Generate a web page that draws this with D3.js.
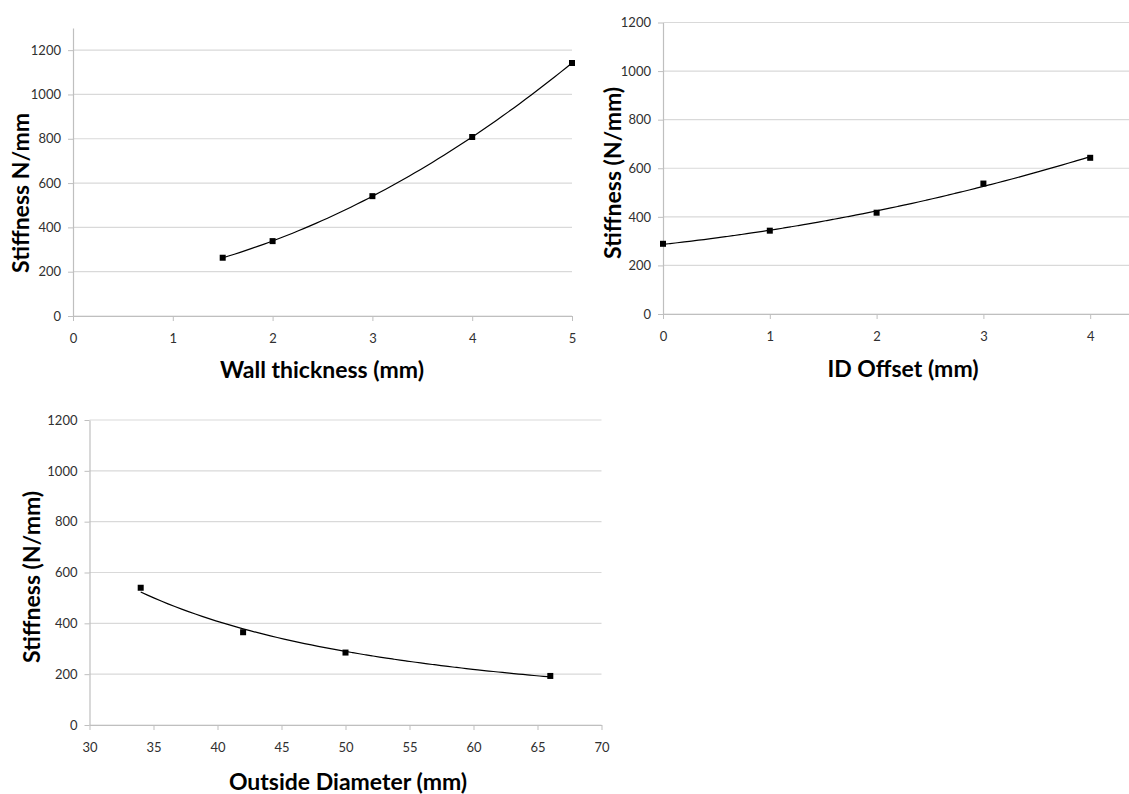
<!DOCTYPE html>
<html>
<head>
<meta charset="utf-8">
<script src="https://cdn.jsdelivr.net/npm/d3@7"></script>
<style>
  body { margin: 0; background: #fff; }
  svg { display: block; }
  .tick text { font-family: Lato, "Open Sans", sans-serif; font-size: 13px; fill: #303030; }
  .title { font-family: Lato, "Open Sans", sans-serif; font-weight: bold; font-size: 23px; fill: #000; }
</style>
</head>
<body>
<svg id="chart" width="1129" height="794"></svg>
<script>
// chart 1 - wall thickness
const wallThickness = [1.5, 2, 3, 4, 5];
const wallStiffness = [263, 338, 541, 808, 1142];
// chart 2 - ID offset
const idOffset = [0, 1, 2, 3, 4];
const idStiffness = [289, 343, 417, 537, 643];
// chart 3 - outside diameter
const outsideDiameter = [34, 42, 50, 66];
const odStiffness = [540, 365, 285, 193];

const yTicks = [0, 200, 400, 600, 800, 1000, 1200];

const svg = d3.select('#chart');

// least squares trendlines, like the excel ones
function polyFit(xs, ys) {
  // quadratic, solve normal equations
  let n = xs.length, s = [0,0,0,0,0], t = [0,0,0];
  for (let i = 0; i < n; i++) {
    let p = 1;
    for (let k = 0; k < 5; k++) { s[k] += p; if (k < 3) t[k] += p * ys[i]; p *= xs[i]; }
  }
  let m = [[s[0], s[1], s[2], t[0]], [s[1], s[2], s[3], t[1]], [s[2], s[3], s[4], t[2]]];
  for (let i = 0; i < 3; i++) {
    for (let j = i + 1; j < 3; j++) {
      let f = m[j][i] / m[i][i];
      for (let k = i; k < 4; k++) m[j][k] -= f * m[i][k];
    }
  }
  let c = [0, 0, 0];
  for (let i = 2; i >= 0; i--) {
    let v = m[i][3];
    for (let k = i + 1; k < 3; k++) v -= m[i][k] * c[k];
    c[i] = v / m[i][i];
  }
  return x => c[0] + c[1] * x + c[2] * x * x;
}

function powerFit(xs, ys) {
  let lx = xs.map(Math.log), ly = ys.map(Math.log);
  let mx = d3.mean(lx), my = d3.mean(ly);
  let b = d3.sum(lx, (v, i) => (v - mx) * (ly[i] - my)) / d3.sum(lx, v => (v - mx) * (v - mx));
  let a = Math.exp(my - b * mx);
  return x => a * Math.pow(x, b);
}

function drawChart(cfg) {
  const x = d3.scaleLinear().domain(cfg.xDomain).range(cfg.xRange);
  const y = d3.scaleLinear().domain(cfg.yDomain).range(cfg.yRange);
  const g = svg.append('g');
  const right = Math.min(x.range()[1], 1129);

  // gridlines
  g.selectAll('.grid')
    .data(yTicks)
    .enter()
    .append('line')
    .attr('x1', x.range()[0])
    .attr('x2', right)
    .attr('y1', d => y(d))
    .attr('y2', d => y(d))
    .attr('stroke', '#d9d9d9')
    .attr('stroke-width', 1.2);

  const yAxis = g.append('g')
    .attr('transform', 'translate(' + x.range()[0] + ',0)')
    .call(d3.axisLeft(y).tickValues(yTicks).tickFormat(d3.format('d')).tickSize(5).tickPadding(7).tickSizeOuter(0));
  yAxis.select('.domain').attr('stroke', '#bfbfbf').attr('stroke-width', 1.2);
  yAxis.selectAll('.tick line').attr('stroke', '#bfbfbf');

  const xAxis = g.append('g')
    .attr('transform', 'translate(0,' + y.range()[0] + ')')
    .call(d3.axisBottom(x).tickValues(cfg.xTicks).tickFormat(d3.format('d')).tickSize(5).tickPadding(13).tickSizeOuter(0));
  xAxis.select('.domain').attr('stroke', '#bfbfbf').attr('stroke-width', 1.2);
  xAxis.selectAll('.tick line').attr('stroke', '#bfbfbf');

  // trendline
  const lo = d3.min(cfg.xs), hi = d3.max(cfg.xs);
  const samples = d3.range(0, 61).map(i => lo + (hi - lo) * i / 60);
  g.append('path')
    .datum(samples)
    .attr('fill', 'none')
    .attr('stroke', '#000')
    .attr('stroke-width', 1.2)
    .attr('d', d3.line().x(d => x(d)).y(d => y(cfg.fit(d))).curve(d3.curveMonotoneX));

  g.selectAll('.pt')
    .data(cfg.xs)
    .enter()
    .append('rect')
    .attr('x', d => x(d) - 3)
    .attr('y', (d, i) => y(cfg.ys[i]) - 3)
    .attr('width', 6)
    .attr('height', 6)
    .attr('fill', '#000');

  g.append('text')
    .attr('class', 'title')
    .attr('text-anchor', 'middle')
    .attr('x', cfg.xTitlePos[0])
    .attr('y', cfg.xTitlePos[1])
    .text(cfg.xTitle);

  g.append('text')
    .attr('class', 'title')
    .attr('text-anchor', 'middle')
    .attr('transform', 'translate(' + cfg.yTitlePos[0] + ',' + cfg.yTitlePos[1] + ') rotate(-90)')
    .text(cfg.yTitle);
}

drawChart({
  xs: wallThickness, ys: wallStiffness, fit: polyFit(wallThickness, wallStiffness),
  xDomain: [0, 5], xRange: [73, 572], xTicks: [0, 1, 2, 3, 4, 5],
  yDomain: [0, 1300], yRange: [316, 28],
  xTitle: 'Wall thickness (mm)', xTitlePos: [322, 378],
  yTitle: 'Stiffness N/mm', yTitlePos: [29, 193]
});

drawChart({
  xs: idOffset, ys: idStiffness, fit: polyFit(idOffset, idStiffness),
  xDomain: [0, 5], xRange: [663, 1197], xTicks: [0, 1, 2, 3, 4],
  yDomain: [0, 1200], yRange: [314, 22.5],
  xTitle: 'ID Offset (mm)', xTitlePos: [903, 377],
  yTitle: 'Stiffness (N/mm)', yTitlePos: [621, 173]
});

drawChart({
  xs: outsideDiameter, ys: odStiffness, fit: powerFit(outsideDiameter, odStiffness),
  xDomain: [30, 70], xRange: [89.5, 601.5], xTicks: [30, 35, 40, 45, 50, 55, 60, 65, 70],
  yDomain: [0, 1200], yRange: [725, 420],
  xTitle: 'Outside Diameter (mm)', xTitlePos: [348, 790],
  yTitle: 'Stiffness (N/mm)', yTitlePos: [40, 577]
});
</script>
</body>
</html>
